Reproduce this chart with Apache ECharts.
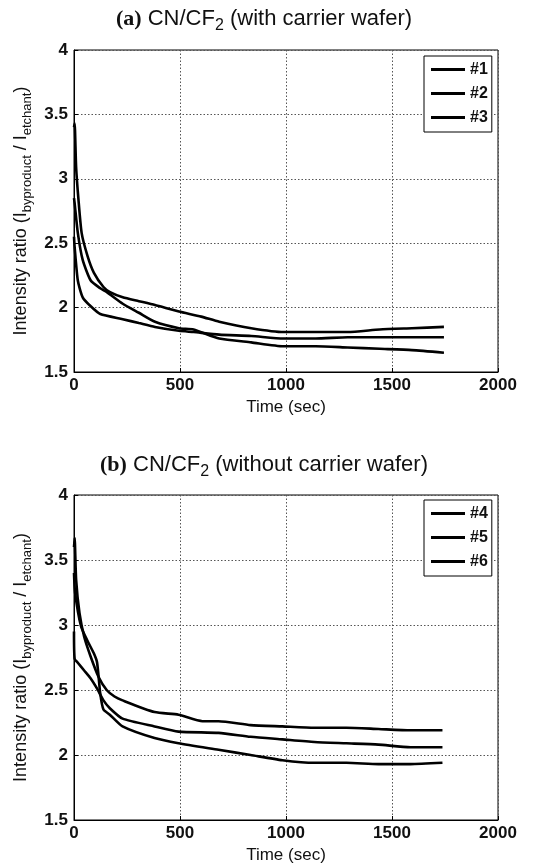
<!DOCTYPE html>
<html>
<head>
<meta charset="utf-8">
<script src="https://cdn.jsdelivr.net/npm/echarts@6/dist/echarts.min.js"></script>
<style>
html,body{margin:0;padding:0;background:#fff;}
#c{width:544px;height:867px;}
</style>
</head>
<body>
<div id="c"></div>
<script>
// ---- data ----
const xTicks = [0, 500, 1000, 1500, 2000];
const yTicks = [1.5, 2, 2.5, 3, 3.5, 4];

const namesA = ['#1', '#2', '#3'];
const namesB = ['#4', '#5', '#6'];

// (a) with carrier wafer
const t1 = [0, 3, 10, 21, 36, 64, 94, 139, 170, 230, 306, 382, 495, 600, 685, 836, 988, 1140, 1291, 1442, 1594, 1745];
const s1 = [3.40, 3.43, 3.09, 2.84, 2.58, 2.40, 2.27, 2.16, 2.12, 2.08, 2.05, 2.02, 1.97, 1.93, 1.89, 1.84, 1.81, 1.81, 1.81, 1.83, 1.84, 1.85];
const t2 = [0, 3, 18, 41, 79, 124, 155, 230, 306, 382, 495, 564, 685, 836, 988, 1140, 1291, 1442, 1594, 1745];
const s2 = [2.85, 2.81, 2.58, 2.37, 2.21, 2.15, 2.12, 2.03, 1.96, 1.89, 1.84, 1.83, 1.76, 1.73, 1.70, 1.70, 1.69, 1.68, 1.67, 1.65];
const t3 = [0, 3, 18, 41, 79, 124, 230, 306, 382, 495, 564, 685, 836, 988, 1140, 1291, 1442, 1594, 1745];
const s3 = [2.55, 2.47, 2.21, 2.08, 2.01, 1.95, 1.91, 1.88, 1.85, 1.82, 1.81, 1.79, 1.78, 1.76, 1.76, 1.77, 1.77, 1.77, 1.77];

// (b) without carrier wafer
const t4 = [0, 3, 10, 26, 48, 78, 116, 154, 191, 229, 380, 493, 606, 682, 833, 983, 1134, 1285, 1436, 1587, 1738];
const s4 = [3.60, 3.67, 3.35, 3.09, 2.91, 2.76, 2.60, 2.50, 2.45, 2.42, 2.33, 2.31, 2.26, 2.26, 2.23, 2.22, 2.21, 2.21, 2.20, 2.19, 2.19];
const t5 = [0, 5, 33, 63, 94, 109, 124, 139, 169, 229, 380, 493, 682, 833, 983, 1134, 1285, 1436, 1587, 1738];
const s5 = [3.40, 3.25, 2.99, 2.88, 2.78, 2.71, 2.47, 2.35, 2.31, 2.22, 2.13, 2.09, 2.04, 2.00, 1.96, 1.94, 1.94, 1.93, 1.93, 1.94];
const t6 = [0, 3, 18, 48, 78, 109, 139, 169, 229, 380, 493, 682, 833, 983, 1134, 1285, 1436, 1587, 1738];
const s6 = [2.95, 2.74, 2.71, 2.65, 2.59, 2.51, 2.42, 2.36, 2.28, 2.22, 2.18, 2.17, 2.14, 2.12, 2.10, 2.09, 2.08, 2.06, 2.06];

// ---- chart ----
const SANS = '"Liberation Sans", Arial, Helvetica, sans-serif';
const SERIF = '"Liberation Serif", "Times New Roman", serif';
const pair = (t, s) => t.map((v, i) => [v, s[i]]);

const chart = echarts.init(document.getElementById('c'), null, {renderer: 'canvas'});

function xAx(gi) {
  return {
    type: 'value', gridIndex: gi,
    min: xTicks[0], max: xTicks[xTicks.length - 1], interval: xTicks[1] - xTicks[0],
    name: 'Time (sec)', nameLocation: 'middle', nameGap: 27,
    nameTextStyle: {fontFamily: SANS, fontSize: 17, color: '#111'},
    axisLine: {show: true, lineStyle: {color: '#000', width: 1}},
    axisTick: {show: true, inside: true, length: 4, lineStyle: {color: '#000'}},
    axisLabel: {fontFamily: SANS, fontSize: 17, fontWeight: 'bold', color: '#111', margin: 5,
                showMinLabel: true, showMaxLabel: true, formatter: v => String(v)},
    splitLine: {show: true, lineStyle: {color: '#555', width: 1, type: [1.5, 2]}}
  };
}
function yAx(gi) {
  return {
    type: 'value', gridIndex: gi,
    min: yTicks[0], max: yTicks[yTicks.length - 1], interval: yTicks[1] - yTicks[0],
    name: '{m|Intensity ratio (I}{s|byproduct}{m| / I}{s|etchant}{m|)}',
    nameLocation: 'middle', nameRotate: 90, nameGap: 42,
    nameTextStyle: {
      color: '#111',
      rich: {
        m: {fontFamily: SANS, fontSize: 18, lineHeight: 20, color: '#111'},
        s: {fontFamily: SANS, fontSize: 13, lineHeight: 14, padding: [11, 0, 0, 0], color: '#111'}
      }
    },
    axisLine: {show: true, lineStyle: {color: '#000', width: 1}},
    axisTick: {show: true, inside: true, length: 4, lineStyle: {color: '#000'}},
    axisLabel: {fontFamily: SANS, fontSize: 17, fontWeight: 'bold', color: '#111', margin: 6,
                showMinLabel: true, showMaxLabel: true, formatter: v => String(v)},
    splitLine: {show: true, lineStyle: {color: '#555', width: 1, type: [1.5, 2]}}
  };
}
function ser(name, gi, t, s) {
  return {
    name: name, type: 'line', xAxisIndex: gi, yAxisIndex: gi,
    data: pair(t, s), showSymbol: false, symbol: 'none', smooth: 0.2,
    lineStyle: {color: '#000', width: 2.6}, itemStyle: {color: '#000'},
    animation: false
  };
}
function leg(names, top) {
  return {
    data: names, orient: 'vertical', left: 424, top: top,
    icon: 'rect', itemWidth: 34, itemHeight: 3, itemGap: 7, itemTextGap: 3,
    padding: [5, 4, 6, 7], borderColor: '#000', borderWidth: 1, backgroundColor: '#fff',
    textStyle: {fontFamily: SANS, fontSize: 16, fontWeight: 'bold', color: '#111', lineHeight: 17},
    selectedMode: false
  };
}
const titleRich = {
  b: {fontFamily: SERIF, fontWeight: 'bold', fontSize: 22, lineHeight: 26, color: '#111'},
  n: {fontFamily: SANS, fontWeight: 'normal', fontSize: 22, lineHeight: 26, color: '#111'},
  s: {fontFamily: SANS, fontWeight: 'normal', fontSize: 16, lineHeight: 18, padding: [14, 0, 0, 0], color: '#111'}
};

chart.setOption({
  animation: false,
  backgroundColor: '#fff',
  title: [
    {text: '{b|(a)}{n| CN/CF}{s|2}{n| (with carrier wafer)}', left: 259, top: 1, textAlign: 'center',
     textStyle: {fontWeight: 'normal', rich: titleRich}},
    {text: '{b|(b)}{n| CN/CF}{s|2}{n| (without carrier wafer)}', left: 259, top: 447, textAlign: 'center',
     textStyle: {fontWeight: 'normal', rich: titleRich}}
  ],
  grid: [
    {left: 74, right: 46, top: 50, height: 322, show: true, borderColor: '#000', borderWidth: 1, backgroundColor: 'transparent'},
    {left: 74, right: 46, top: 495, height: 325, show: true, borderColor: '#000', borderWidth: 1, backgroundColor: 'transparent'}
  ],
  xAxis: [xAx(0), xAx(1)],
  yAxis: [yAx(0), yAx(1)],
  legend: [leg(namesA, 56), leg(namesB, 500)],
  series: [
    ser(namesA[0], 0, t1, s1),
    ser(namesA[1], 0, t2, s2),
    ser(namesA[2], 0, t3, s3),
    ser(namesB[0], 1, t4, s4),
    ser(namesB[1], 1, t5, s5),
    ser(namesB[2], 1, t6, s6)
  ]
});
</script>
</body>
</html>
